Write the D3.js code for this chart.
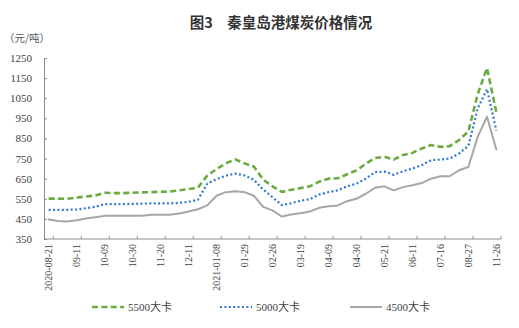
<!DOCTYPE html>
<html>
<head>
<meta charset="utf-8">
<script src="https://cdn.jsdelivr.net/npm/d3@7/dist/d3.min.js"></script>
<style>
  html, body { margin: 0; padding: 0; background: #fff; }
  svg { display: block; }
</style>
</head>
<body>
<svg id="chart" width="519" height="328"></svg>
<script>
// Weekly sampling dates (category axis, every third one is labelled)
const dates = [
  "2020-08-21","2020-08-28","2020-09-04","2020-09-11","2020-09-18","2020-09-25",
  "2020-10-09","2020-10-16","2020-10-23","2020-10-30","2020-11-06","2020-11-13",
  "2020-11-20","2020-11-27","2020-12-04","2020-12-11","2020-12-18","2020-12-25",
  "2021-01-08","2021-01-15","2021-01-22","2021-01-29","2021-02-05","2021-02-19",
  "2021-02-26","2021-03-05","2021-03-12","2021-03-19","2021-03-26","2021-04-02",
  "2021-04-09","2021-04-16","2021-04-23","2021-04-30","2021-05-07","2021-05-14",
  "2021-05-21","2021-05-28","2021-06-04","2021-06-11","2021-06-18","2021-07-02",
  "2021-07-16","2021-07-30","2021-08-13","2021-08-27","2021-09-24","2021-10-22",
  "2021-11-26"
];

// Prices, yuan per tonne
const price5500 = [
  551, 551, 550, 556, 561, 566, 580, 578, 578, 580, 582, 583,
  585, 586, 592, 598, 605, 665, 698, 726, 746, 726, 710, 645,
  612, 584, 595, 603, 612, 635, 650, 652, 672, 691, 724, 753,
  759, 745, 768, 778, 800, 817, 808, 812, 842, 885, 1070, 1200,
  980
];
const price5000 = [
  495, 495, 495, 497, 503, 510, 523, 523, 523, 525, 526, 527,
  527, 527, 530, 535, 545, 625, 648, 665, 675, 666, 645, 595,
  558, 518, 528, 540, 548, 571, 583, 592, 612, 625, 650, 683,
  685, 669, 687, 700, 717, 742, 745, 750, 775, 812, 1000, 1095,
  890
];
const price4500 = [
  447, 440, 437, 443, 452, 458, 465, 466, 465, 466, 466, 471,
  470, 471, 477, 487, 498, 517, 565, 583, 587, 583, 565, 510,
  492, 462, 472, 478, 487, 505, 513, 517, 538, 550, 575, 605,
  612, 592, 608, 617, 628, 650, 662, 662, 692, 708, 858, 958,
  795
];

const seriesNames = ["5500大卡", "5000大卡", "4500大卡"];
const yTicks = [350, 450, 550, 650, 750, 850, 950, 1050, 1150, 1250];
const labelEvery = 3;

const series = [
  { name: seriesNames[0], values: price5500, color: "#6aaa3e", width: 2.6, dash: "6,3.4", cap: "butt" },
  { name: seriesNames[1], values: price5000, color: "#2f78d6", width: 2.2, dash: "2,2.4", cap: "butt" },
  { name: seriesNames[2], values: price4500, color: "#a6a6a6", width: 2, dash: null, cap: "round" }
];

const svg = d3.select("#chart");
const serif = "'Liberation Serif','Times New Roman','Noto Sans CJK SC',serif";
const axisColor = "#8c8c8c";
const textColor = "#404040";

const plot = { left: 44, right: 501, top: 58, bottom: 239 };

const x = d3.scaleBand()
  .domain(d3.range(dates.length))
  .range([plot.left, plot.right]);
const cx = i => x(i) + x.bandwidth() / 2;

const y = d3.scaleLinear()
  .domain([350, 1250])
  .range([plot.bottom, plot.top]);

// Title and unit
svg.append("text")
  .attr("x", 281).attr("y", 28)
  .attr("text-anchor", "middle")
  .attr("font-family", "'Noto Sans CJK SC',sans-serif")
  .attr("font-weight", "bold")
  .attr("font-size", 14.5)
  .attr("fill", "#333")
  .text("图3　秦皇岛港煤炭价格情况");

svg.append("text")
  .attr("x", 4).attr("y", 42)
  .attr("font-family", "'Noto Sans CJK SC',sans-serif")
  .attr("font-size", 10.5)
  .attr("fill", "#555")
  .text("（元/吨）");

// Y axis
const yAxis = d3.axisLeft(y)
  .tickValues(yTicks)
  .tickSizeInner(-3)
  .tickSizeOuter(0)
  .tickPadding(12)
  .tickFormat(d3.format("d"));

const gy = svg.append("g")
  .attr("transform", `translate(${plot.left},0)`)
  .call(yAxis);
gy.select(".domain").attr("stroke", axisColor);
gy.selectAll(".tick line").attr("stroke", axisColor);
gy.selectAll(".tick text")
  .attr("font-family", serif)
  .attr("font-size", 11)
  .attr("fill", textColor);

// X axis line
svg.append("line")
  .attr("x1", plot.left).attr("x2", plot.right)
  .attr("y1", plot.bottom).attr("y2", plot.bottom)
  .attr("stroke", axisColor);

// Tick marks between categories, every third category
const tickIdx = d3.range(dates.length).filter(i => i % labelEvery === 0);
svg.append("g").selectAll("line")
  .data(tickIdx)
  .join("line")
  .attr("x1", i => x(i) + x.bandwidth())
  .attr("x2", i => x(i) + x.bandwidth())
  .attr("y1", plot.bottom)
  .attr("y2", plot.bottom - 3)
  .attr("stroke", axisColor);

// Category labels, rotated
const fmtLabel = (d, i) => (i === 0 || d.slice(0, 4) !== dates[i - 1].slice(0, 4)) ? d : d.slice(5);
svg.append("g").selectAll("text")
  .data(tickIdx)
  .join("text")
  .attr("transform", i => `translate(${cx(i)},${plot.bottom + 5}) rotate(-90)`)
  .attr("text-anchor", "end")
  .attr("dy", "0.35em")
  .attr("font-family", serif)
  .attr("font-size", 10)
  .attr("fill", textColor)
  .text(i => fmtLabel(dates[i], i));

// Series lines
const line = d3.line()
  .x((d, i) => cx(i))
  .y(d => y(d));

svg.append("g").selectAll("path")
  .data(series)
  .join("path")
  .attr("d", s => line(s.values))
  .attr("fill", "none")
  .attr("stroke", s => s.color)
  .attr("stroke-width", s => s.width)
  .attr("stroke-dasharray", s => s.dash)
  .attr("stroke-linecap", s => s.cap)
  .attr("stroke-linejoin", "round");

// Legend
const legendX = [92, 220, 350];
const lg = svg.append("g").selectAll("g")
  .data(series)
  .join("g")
  .attr("transform", (s, k) => `translate(${legendX[k]},307)`);
lg.append("line")
  .attr("x1", 0).attr("x2", 32)
  .attr("stroke", s => s.color)
  .attr("stroke-width", s => s.width)
  .attr("stroke-dasharray", s => s.dash)
  .attr("stroke-linecap", "butt");
lg.append("text")
  .attr("x", 36)
  .attr("dy", "0.35em")
  .attr("font-family", serif)
  .attr("font-size", 11)
  .attr("fill", textColor)
  .text(s => s.name);
</script>
</body>
</html>
